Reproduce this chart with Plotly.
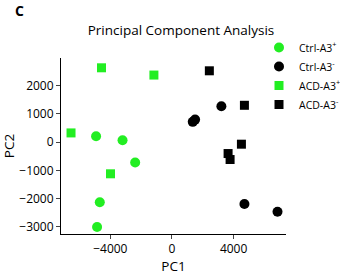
import plotly.graph_objects as go

ctrl_pos_x = [-4924, -3207, -2387, -4683, -4858]
ctrl_pos_y = [212, 71, -720, -2127, -3000]
ctrl_neg_x = [3207, 1350, 1500, 4702, 6849]
ctrl_neg_y = [1271, 720, 800, -2188, -2460]
acd_pos_x = [-4572, -1171, -6550, -3987]
acd_pos_y = [2633, 2376, 328, -1119]
acd_neg_x = [2426, 4702, 4507, 3642, 3772]
acd_neg_y = [2527, 1306, -71, -402, -614]

x_ticks = [-4000, 0, 4000]
y_ticks = [-3000, -2000, -1000, 0, 1000, 2000]

GREEN = "#22ee22"
FONT = "Open Sans"

W, H = 340, 279
L, R, T, B = 61, 54, 58, 45
PW, PH = W - L - R, H - T - B

fig = go.Figure()
fig.add_trace(go.Scatter(x=ctrl_pos_x, y=ctrl_pos_y, mode="markers", name="Ctrl-A3<sup>+</sup>",
                         marker=dict(symbol="circle", size=10, color=GREEN)))
fig.add_trace(go.Scatter(x=ctrl_neg_x, y=ctrl_neg_y, mode="markers", name="Ctrl-A3<sup>-</sup>",
                         marker=dict(symbol="circle", size=10, color="black")))
fig.add_trace(go.Scatter(x=acd_pos_x, y=acd_pos_y, mode="markers", name="ACD-A3<sup>+</sup>",
                         marker=dict(symbol="square", size=9, color=GREEN)))
fig.add_trace(go.Scatter(x=acd_neg_x, y=acd_neg_y, mode="markers", name="ACD-A3<sup>-</sup>",
                         marker=dict(symbol="square", size=9, color="black")))

fig.update_layout(
    width=W, height=H,
    margin=dict(l=L, r=R, t=T, b=B, autoexpand=False),
    paper_bgcolor="white", plot_bgcolor="white",
    font=dict(family=FONT, size=11, color="black"),
    title=dict(text="Principal Component Analysis", x=181 / W, xanchor="center",
               y=1 - 30 / H, yanchor="middle", yref="container",
               font=dict(size=13.5, color="black")),
    showlegend=True,
    legend=dict(x=(259 - L) / PW, xref="paper", y=(H - B - 33) / PH, yref="paper",
                xanchor="left", yanchor="top", itemwidth=30,
                font=dict(size=10.5), tracegroupgap=0, bgcolor="rgba(0,0,0,0)"),
    annotations=[dict(text="<b>C</b>", x=(13 - L) / PW, y=(H - B - 10) / PH, xref="paper", yref="paper",
                      xanchor="left", yanchor="middle", showarrow=False,
                      font=dict(size=14, color="black"))],
)
fig.update_xaxes(range=[-7200, 7400], tickvals=x_ticks, ticks="outside", ticklen=4,
                 showline=True, linecolor="black", linewidth=1, showgrid=False, zeroline=False,
                 title=dict(text="PC1", standoff=0, font=dict(size=13.5)), tickfont=dict(size=12))
fig.update_yaxes(range=[-3250, 2980], tickvals=y_ticks, ticks="outside", ticklen=4,
                 showline=True, linecolor="black", linewidth=1, showgrid=False, zeroline=False,
                 title=dict(text="PC2", standoff=2, font=dict(size=13.5)), tickfont=dict(size=12))

fig.write_html("out.html", config={"displayModeBar": False},
               post_script="document.body.style.margin='0';")
